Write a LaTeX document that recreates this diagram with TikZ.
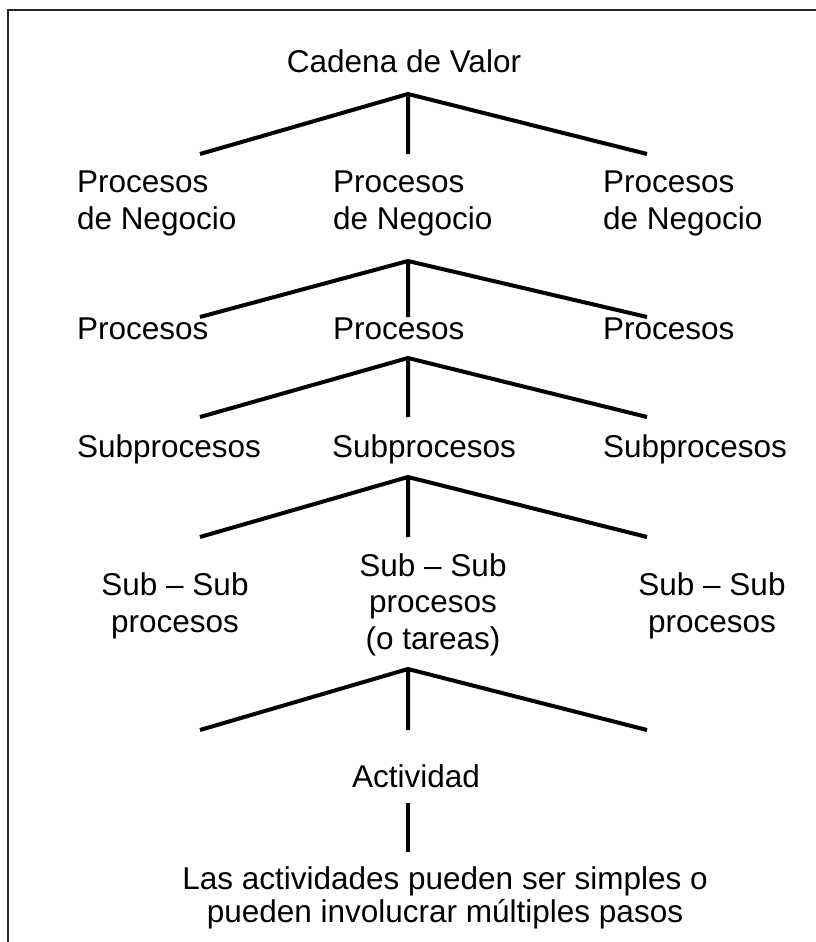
\documentclass[tikz,border=0pt]{standalone}
\usepackage{fontspec}
\setmainfont{Liberation Sans}
\begin{document}
\begin{tikzpicture}[x=1pt,y=-1pt,
  lbl/.style={inner sep=0pt, outer sep=0pt, font=\fontsize{31.5}{36.5}\selectfont},
  lblL/.style={lbl, align=left, anchor=base west},
  lblC/.style={lbl, align=center, anchor=base},
  branch/.style={line width=4pt, line join=miter},
  frame/.style={line width=2pt, draw=black!85}]
\useasboundingbox (0,0) rectangle (815,942);
% frame
\coordinate (fr1) at (816,10);
\coordinate (fr2) at (8,10);
\coordinate (fr3) at (8,943);
\draw[frame] (fr1) -- (fr2) -- (fr3);

% texts (base = baseline of the last line)
\node[lblC] (cv) at (404,73) {Cadena de Valor};

\node[lblL] (pn1) at (77,229) {Procesos\\de Negocio};
\node[lblL] (pn2) at (333,229) {Procesos\\de Negocio};
\node[lblL] (pn3) at (603,229) {Procesos\\de Negocio};

\node[lblL] (p1) at (77,339) {Procesos};
\node[lblL] (p2) at (333,339) {Procesos};
\node[lblL] (p3) at (603,339) {Procesos};

\node[lblL] (s1) at (77,457) {Subprocesos};
\node[lblL] (s2) at (332,457) {Subprocesos};
\node[lblL] (s3) at (603,457) {Subprocesos};

\node[lblC] (ss1) at (175,632) {Sub – Sub\\procesos};
\node[lblC] (ss2) at (433,649) {Sub – Sub\\procesos\\(o tareas)};
\node[lblC] (ss3) at (712,632) {Sub – Sub\\procesos};

\node[lblC] (act) at (416,787) {Actividad};

\node[lblC, font=\fontsize{31.5}{33}\selectfont] (desc) at (445,922) {Las actividades pueden ser simples o\\pueden involucrar múltiples pasos};

% branch 0
\coordinate (a0) at (408,94);
\coordinate (a0l) at (200,154);
\coordinate (a0m) at (408,154);
\coordinate (a0r) at (647,154);
\draw[branch] (a0l) -- (a0) -- (a0r) (a0) -- (a0m);
% branch 1
\coordinate (a1) at (408,261);
\coordinate (a1l) at (200,317);
\coordinate (a1m) at (408,317);
\coordinate (a1r) at (647,317);
\draw[branch] (a1l) -- (a1) -- (a1r) (a1) -- (a1m);
% branch 2
\coordinate (a2) at (408,358);
\coordinate (a2l) at (200,417);
\coordinate (a2m) at (408,417);
\coordinate (a2r) at (647,417);
\draw[branch] (a2l) -- (a2) -- (a2r) (a2) -- (a2m);
% branch 3
\coordinate (a3) at (408,477);
\coordinate (a3l) at (200,537);
\coordinate (a3m) at (408,537);
\coordinate (a3r) at (647,537);
\draw[branch] (a3l) -- (a3) -- (a3r) (a3) -- (a3m);
% branch 4
\coordinate (a4) at (408,669);
\coordinate (a4l) at (200,730);
\coordinate (a4m) at (408,730);
\coordinate (a4r) at (647,730);
\draw[branch] (a4l) -- (a4) -- (a4r) (a4) -- (a4m);
% final line
\coordinate (a5t) at (408,803);
\coordinate (a5b) at (408,852);
\draw[branch] (a5t) -- (a5b);
\end{tikzpicture}
\end{document}
